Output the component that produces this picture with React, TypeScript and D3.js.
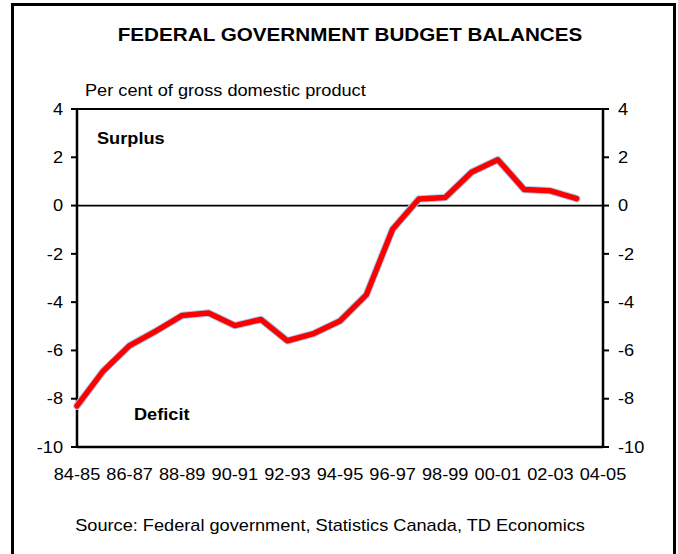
import React from "react";
import * as d3 from "d3";

const categories = ["84-85","85-86","86-87","87-88","88-89","89-90","90-91","91-92","92-93","93-94","94-95","95-96","96-97","97-98","98-99","99-00","00-01","01-02","02-03","03-04","04-05"];
const balance = [-8.3,-6.85,-5.8,-5.2,-4.55,-4.45,-4.97,-4.72,-5.6,-5.3,-4.78,-3.7,-0.98,0.27,0.33,1.38,1.9,0.67,0.61,0.29];
const yTicks = [4,2,0,-2,-4,-6,-8,-10];
const xTickLabels = ["84-85","86-87","88-89","90-91","92-93","94-95","96-97","98-99","00-01","02-03","04-05"];

const W = 678, H = 554;
const FONT = "'Liberation Sans', Arial, sans-serif";
const SX = 1.13;

function T(props: { x: number; y: number; anchor?: string; size?: number; bold?: boolean; children: React.ReactNode }) {
  const { x, y, anchor = "start", size = 16.1, bold = false, children } = props;
  return (
    <text transform={`translate(${x},${y}) scale(${SX},1)`} textAnchor={anchor as any}
      fontFamily={FONT} fontSize={size} fontWeight={bold ? "bold" : "normal"} fill="#000">
      {children}
    </text>
  );
}

export default function App() {
  const x = d3.scaleLinear().domain([0, categories.length - 1]).range([77, 603]);
  const y = d3.scaleLinear().domain([-10, 4]).range([447, 109]);
  const line = d3.line<number>().x((_, i) => x(i)).y((d) => y(d)).curve(d3.curveLinear);
  const path = line(balance) || "";
  return (
    <svg width={W} height={H} style={{ position: "absolute", left: 0, top: 0 }}>
      <rect x={0} y={0} width={W} height={H} fill="#fff" />
      <rect x={12.5} y={4.5} width={662} height={600} fill="none" stroke="#000" strokeWidth={3} />
      <T x={350} y={41} anchor="middle" size={18.3} bold>FEDERAL GOVERNMENT BUDGET BALANCES</T>
      <T x={85} y={96}>Per cent of gross domestic product</T>
      <line x1={x(0)} x2={x(20)} y1={y(4)} y2={y(4)} stroke="#000" strokeWidth={2} />
      <line x1={x(0)} x2={x(20)} y1={y(-10)} y2={y(-10)} stroke="#000" strokeWidth={2.5} />
      <line x1={x(0)} x2={x(20)} y1={y(0)} y2={y(0)} stroke="#000" strokeWidth={1.8} />
      <line x1={x(0)} x2={x(0)} y1={y(4) - 1} y2={y(-10) + 1} stroke="#000" strokeWidth={2.5} />
      <line x1={x(20)} x2={x(20)} y1={y(4) - 1} y2={y(-10) + 1} stroke="#000" strokeWidth={2.5} />
      {yTicks.map((t) => (
        <g key={t}>
          <line x1={x(0) - 6} x2={x(0)} y1={y(t)} y2={y(t)} stroke="#000" strokeWidth={2} />
          <line x1={x(20)} x2={x(20) + 6} y1={y(t)} y2={y(t)} stroke="#000" strokeWidth={2} />
          <T x={63} y={y(t) + 5.7} anchor="end">{String(t)}</T>
          <T x={618} y={y(t) + 5.7}>{String(t)}</T>
        </g>
      ))}
      {xTickLabels.map((lab) => (
        <T key={lab} x={x(categories.indexOf(lab))} y={480} anchor="middle">{lab}</T>
      ))}
      <T x={97} y={144} bold>Surplus</T>
      <T x={134} y={420} bold>Deficit</T>
      <path d={path} fill="none" stroke="#a8d0f0" strokeWidth={7.5} strokeLinejoin="round" strokeLinecap="round" />
      <path d={path} fill="none" stroke="#ff0000" strokeWidth={5.5} strokeLinejoin="round" strokeLinecap="round" />
      <T x={330} y={531} anchor="middle">Source: Federal government, Statistics Canada, TD Economics</T>
    </svg>
  );
}
